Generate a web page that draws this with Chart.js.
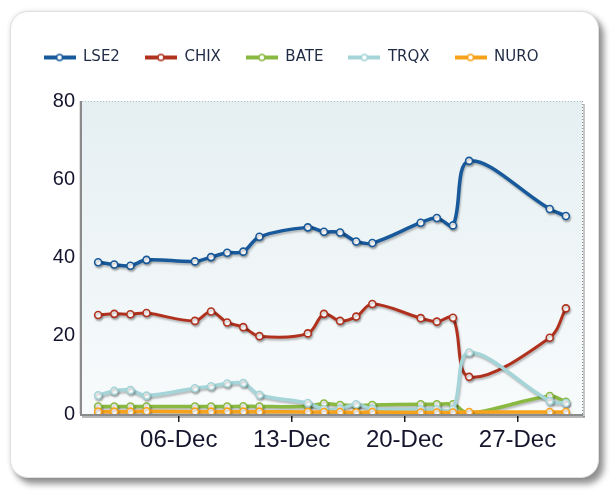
<!DOCTYPE html>
<html><head><meta charset="utf-8">
<script src="https://cdn.jsdelivr.net/npm/chart.js@4.4.1/dist/chart.umd.min.js"></script>
<style>
html,body{margin:0;padding:0;background:#fff;width:610px;height:493px;overflow:hidden;}
#card{position:absolute;left:10px;top:11px;width:589px;height:467px;border-radius:18px;background:#fff;border:1px solid #e0e0e0;box-shadow:5px 6px 6px rgba(0,0,0,0.42),0 0 5px rgba(0,0,0,0.12);box-sizing:border-box;}
#c{position:absolute;left:0;top:0;}
</style></head><body>
<div id="card"></div>
<canvas id="c" width="610" height="493"></canvas>
<script>
// Day of December for each observation
const DAYS = [1,2,3,4,7,8,9,10,11,14,15,16,17,18,21,22,23,24,29,30];
const SERIES_NAMES = ['LSE2','CHIX','BATE','TRQX','NURO'];
const LSE2 = [38.8,38.2,37.9,39.4,39.0,40.1,41.2,41.5,45.3,47.7,46.6,46.4,44.1,43.7,48.9,50.1,48.2,64.7,52.4,50.6];
const CHIX = [25.3,25.6,25.5,25.8,23.8,26.2,23.4,22.2,19.9,20.6,25.6,23.8,24.9,28.1,24.5,23.6,24.6,9.5,19.5,27.0];
const BATE = [1.9,1.9,1.9,1.9,1.9,1.9,1.9,2.0,1.9,2.0,2.7,2.3,2.2,2.3,2.5,2.5,2.5,0.2,4.6,3.1];
const TRQX = [4.8,5.9,6.1,4.7,6.6,7.1,7.8,7.9,4.9,2.8,1.2,1.3,2.5,1.3,1.2,1.2,1.2,15.7,3.3,2.8];
const NURO = [0.6,0.6,0.6,0.7,0.6,0.6,0.6,0.6,0.6,0.5,0.5,0.5,0.4,0.5,0.4,0.4,0.4,0.5,0.5,0.5];
const TICK_DAYS = [6,13,20,27];
const TICK_LABELS = ['06-Dec','13-Dec','20-Dec','27-Dec'];
const Y_TICKS = [0,20,40,60,80];

const COLORS = ['#17599a','#b0321e','#8ab942','#a5d5d8','#f7a21b'];
const WIDTHS = [3.5,3,3.5,3.5,3.5];
const VALUES = [LSE2,CHIX,BATE,TRQX,NURO];

function icon(color){
  const c=document.createElement('canvas'); c.width=32; c.height=12;
  const x=c.getContext('2d');
  x.strokeStyle=color; x.lineWidth=4;
  x.beginPath(); x.moveTo(0,6); x.lineTo(32,6); x.stroke();
  x.beginPath(); x.arc(16,6,3,0,Math.PI*2); x.fillStyle='#fff'; x.fill();
  x.lineWidth=1.5; x.stroke();
  return c;
}
const ICONS = COLORS.map(icon);

const EXTRA = 26;
const framePlugin = {
  id:'frame',
  afterInit(chart){
    const lg = chart.legend;
    if(lg){ const f = lg.fit.bind(lg); lg.fit = function(){ f(); this.height += EXTRA; }; }
  },
  beforeDraw(chart){
    const {ctx, chartArea:a} = chart;
    const g = ctx.createLinearGradient(0,a.top,0,a.bottom);
    g.addColorStop(0,'#e5eff2'); g.addColorStop(1,'#f8fbfc');
    ctx.save(); ctx.fillStyle=g; ctx.fillRect(a.left,a.top,a.right-a.left,a.bottom-a.top); ctx.restore();
  },
  beforeDatasetsDraw(chart){
    const {ctx, chartArea:a} = chart;
    ctx.save();
    // top dotted
    ctx.setLineDash([1,2]); ctx.lineWidth=1; ctx.strokeStyle='#a9c3c9';
    ctx.beginPath(); ctx.moveTo(a.left,a.top+0.5); ctx.lineTo(a.right,a.top+0.5); ctx.stroke();
    // right dotted + shadow
    ctx.fillStyle='rgba(0,0,0,0.22)'; ctx.fillRect(a.right+1,a.top+3,2,a.bottom-a.top);
    ctx.strokeStyle='#7d8a8e';
    ctx.beginPath(); ctx.moveTo(a.right+0.5,a.top); ctx.lineTo(a.right+0.5,a.bottom); ctx.stroke();
    ctx.setLineDash([]);
    // left axis
    ctx.fillStyle='rgba(0,0,0,0.12)'; ctx.fillRect(a.left-3,a.top,1,a.bottom-a.top);
    ctx.fillStyle='#8b8b8b'; ctx.fillRect(a.left-2,a.top,2,a.bottom-a.top+2);
    // bottom axis + shadow
    ctx.fillStyle='rgba(0,0,0,0.28)'; ctx.fillRect(a.left,a.bottom+2,a.right-a.left+3,2);
    ctx.fillStyle='#8b8b8b'; ctx.fillRect(a.left-2,a.bottom,a.right-a.left+3,2);
    ctx.restore();
  },
  beforeDatasetDraw(chart){
    const ctx=chart.ctx; ctx.save();
    ctx.shadowColor='rgba(0,0,0,0.25)'; ctx.shadowOffsetX=1; ctx.shadowOffsetY=2; ctx.shadowBlur=2;
  },
  afterDatasetDraw(chart){ chart.ctx.restore(); }
};

const datasets = SERIES_NAMES.map((n,i)=>({
  label:n,
  data: DAYS.map((d,j)=>({x:d,y:VALUES[i][j]})),
  borderColor:COLORS[i],
  backgroundColor:'#ffffff',
  borderWidth:WIDTHS[i],
  pointRadius:3.5,
  pointBorderWidth:1.6,
  pointBackgroundColor:'#ffffff',
  pointBorderColor:COLORS[i],
  tension:0.35,
  fill:false,
  order:SERIES_NAMES.length-i
}));

new Chart(document.getElementById('c'),{
  type:'line',
  data:{datasets},
  plugins:[framePlugin],
  options:{
    responsive:false, animation:false,
    layout:{padding:{left:0,right:28,top:25,bottom:0}},
    plugins:{
      tooltip:{enabled:false},
      legend:{
        position:'top', align:'center',
        labels:{
          font:{family:'DejaVu Sans',size:15}, color:'#1f2a44',
          usePointStyle:true, pointStyleWidth:32, padding:25,
          sort:(a,b)=>a.datasetIndex-b.datasetIndex,
          generateLabels(chart){
            const items = Chart.defaults.plugins.legend.labels.generateLabels(chart);
            items.forEach(it=>{ it.pointStyle = ICONS[it.datasetIndex]; });
            return items;
          }
        }
      }
    },
    scales:{
      x:{
        type:'linear', min:0, max:31,
        afterFit(s){ s.height = 79; },
        afterBuildTicks(s){ s.ticks = TICK_DAYS.map(v=>({value:v})); },
        grid:{display:true, drawOnChartArea:false, drawTicks:true, tickLength:8, color:'#222', lineWidth:1.5},
        border:{display:false},
        ticks:{autoSkip:false, maxRotation:0, padding:4, color:'#15152e',
          font:{family:'Liberation Sans', size:24},
          callback:(v)=>{ const k=TICK_DAYS.indexOf(v); return k>=0?TICK_LABELS[k]:''; }}
      },
      y:{
        min:0, max:80,
        afterFit(s){ s.width = 82; },
        afterBuildTicks(s){ s.ticks = Y_TICKS.map(v=>({value:v})); },
        grid:{display:false, drawTicks:false},
        border:{display:false},
        ticks:{padding:7, color:'#15152e', font:{family:'Liberation Sans', size:20}}
      }
    }
  }
});
</script>
</body></html>
